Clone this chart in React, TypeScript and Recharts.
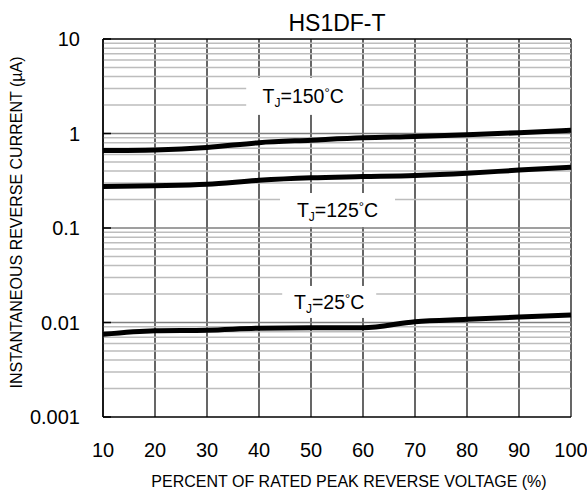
import { CartesianGrid, Line, LineChart, ReferenceDot, ReferenceLine, XAxis, YAxis } from 'recharts';

// percent of rated peak reverse voltage
const voltagePct = [10, 20, 30, 40, 50, 60, 70, 80, 90, 100];
// reverse current (uA)
const current150 = [0.66, 0.67, 0.71, 0.8, 0.85, 0.9, 0.93, 0.97, 1.02, 1.08];
const current125 = [0.275, 0.28, 0.29, 0.32, 0.34, 0.35, 0.36, 0.38, 0.41, 0.44];
const current25 = [0.0075, 0.0082, 0.0083, 0.0087, 0.0088, 0.0088, 0.0102, 0.0108, 0.0114, 0.012];

const xTicks = [10, 20, 30, 40, 50, 60, 70, 80, 90, 100];
const yTicks = [0.001, 0.01, 0.1, 1, 10];
const yTickText = ['0.001', '0.01', '0.1', '1', '10'];
const decades = [0.001, 0.01, 0.1, 1];
const minorSteps = [2, 3, 4, 5, 6, 7, 8, 9];

const labelTemps = ['150', '125', '25'];
const labelAt = [
  { x: 48.5, y: 2.47 },
  { x: 55.1, y: 0.155 },
  { x: 53.5, y: 0.0165 },
];
const labelBox = [
  { w: 114, h: 37 },
  { w: 115, h: 34 },
  { w: 94, h: 32 },
];

const data = voltagePct.map((v, i) => ({
  v,
  t150: current150[i],
  t125: current125[i],
  t25: current25[i],
}));

const minorLines = decades.flatMap((d) => minorSteps.map((s) => +(d * s).toPrecision(3)));
const majorLines = [0.01, 0.1, 1];

const FONT = 'Arial, "Liberation Sans", sans-serif';

function TempLabel(props: any) {
  const { cx, cy, temp, w, h } = props;
  if (cx == null || cy == null) return null;
  return (
    <g>
      <rect x={cx - w / 2} y={cy - h / 2} width={w} height={h} fill="#fff" />
      <text x={cx} y={cy + 7} textAnchor="middle" fontFamily={FONT} fontSize={19.5} fill="#000">
        T
        <tspan fontSize={12} dy={4}>J</tspan>
        <tspan dy={-4}>={temp}</tspan>
        <tspan fontSize={13} dy={-6}>°</tspan>
        <tspan dy={6}>C</tspan>
      </text>
    </g>
  );
}

function YTitle(props: any) {
  const vb = props.viewBox || {};
  const cy = vb.y + vb.height / 2 - 5.5;
  return (
    <text
      x={16}
      y={cy}
      transform={`rotate(-90 16 ${cy})`}
      textAnchor="middle"
      dominantBaseline="central"
      fontFamily={FONT}
      fontSize={16}
      fill="#000"
    >
      INSTANTANEOUS REVERSE CURRENT (µA)
    </text>
  );
}

function XTitle(props: any) {
  const vb = props.viewBox || {};
  return (
    <text
      x={vb.x + vb.width / 2 + 12}
      y={vb.y + vb.height - 6}
      textAnchor="middle"
      fontFamily={FONT}
      fontSize={16}
      fill="#000"
    >
      PERCENT OF RATED PEAK REVERSE VOLTAGE (%)
    </text>
  );
}

export default function App() {
  return (
    <div style={{ position: 'absolute', left: 0, top: 0, width: 587, height: 493, background: '#fff' }}>
      <div
        style={{
          position: 'absolute',
          left: 0,
          top: 12,
          width: 674,
          textAlign: 'center',
          fontFamily: FONT,
          fontSize: 23,
          lineHeight: '23px',
          color: '#000',
        }}
      >
        HS1DF-T
      </div>
      <LineChart width={587} height={493} data={data} margin={{ top: 39, right: 16, left: 0, bottom: 0 }}>
        <CartesianGrid horizontal={false} stroke="#000" strokeWidth={1.2} />
        {minorLines.map((m) => (
          <ReferenceLine key={'m' + m} y={m} stroke="#bdbdbd" strokeWidth={1.5} />
        ))}
        {majorLines.map((m) => (
          <ReferenceLine key={'M' + m} y={m} stroke="#7f7f7f" strokeWidth={1.5} />
        ))}
        <ReferenceLine y={10} stroke="#000" strokeWidth={1.5} />
        <XAxis
          dataKey="v"
          type="number"
          domain={[10, 100]}
          ticks={xTicks}
          height={76}
          tickSize={0}
          tickMargin={26}
          axisLine={{ stroke: '#000', strokeWidth: 1.5 }}
          tick={{ fill: '#000', fontSize: 20, fontFamily: FONT }}
          label={<XTitle />}
        />
        <YAxis
          type="number"
          scale="log"
          domain={[0.001, 10]}
          ticks={yTicks}
          allowDataOverflow
          width={103}
          tickSize={-8}
          tickMargin={31}
          tickFormatter={(v: number) => yTickText[yTicks.indexOf(v)] ?? String(v)}
          axisLine={{ stroke: '#000', strokeWidth: 1.5 }}
          tickLine={{ stroke: '#000', strokeWidth: 1.5 }}
          tick={{ fill: '#000', fontSize: 20, fontFamily: FONT }}
          label={<YTitle />}
        />
        {labelTemps.map((t, i) => (
          <ReferenceDot
            key={t}
            x={labelAt[i].x}
            y={labelAt[i].y}
            r={1}
            shape={(p: any) => <TempLabel {...p} temp={t} w={labelBox[i].w} h={labelBox[i].h} />}
          />
        ))}
        <Line type="monotone" dataKey="t150" stroke="#000" strokeWidth={5} dot={false} isAnimationActive={false} />
        <Line type="monotone" dataKey="t125" stroke="#000" strokeWidth={5} dot={false} isAnimationActive={false} />
        <Line type="monotone" dataKey="t25" stroke="#000" strokeWidth={5} dot={false} isAnimationActive={false} />
      </LineChart>
    </div>
  );
}
